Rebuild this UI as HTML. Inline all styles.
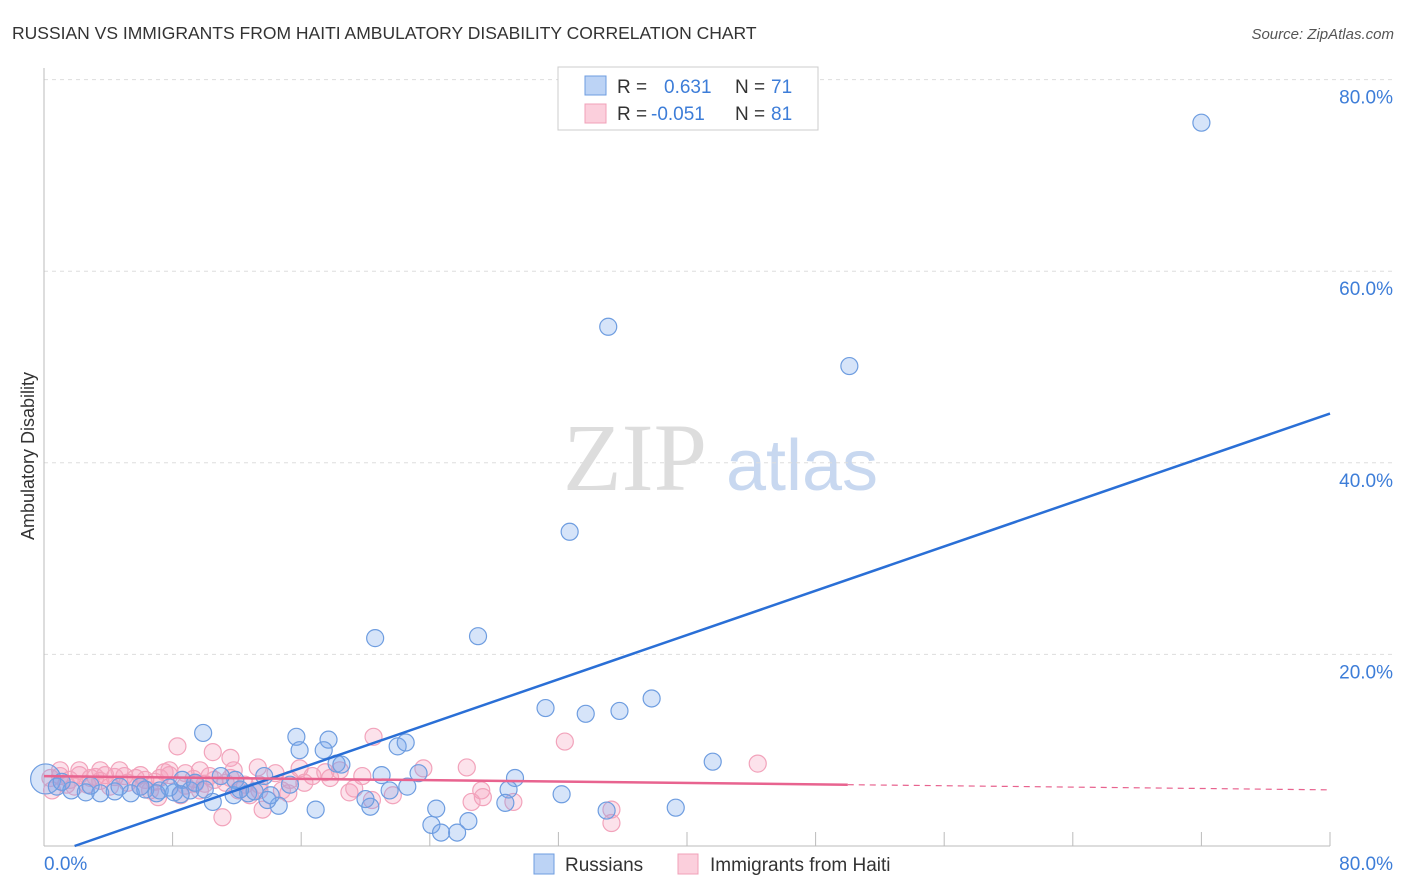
<!DOCTYPE html>
<html><head><meta charset="utf-8"><style>
body{margin:0;background:#fff;font-family:"Liberation Sans",sans-serif;}
svg{display:block}
</style></head><body>
<svg id="chart" width="1406" height="892" xmlns="http://www.w3.org/2000/svg">
<text x="12" y="39" font-size="17.5" fill="#333">RUSSIAN VS IMMIGRANTS FROM HAITI AMBULATORY DISABILITY CORRELATION CHART</text>
<text x="1394" y="39" font-size="15" fill="#555" font-style="italic" text-anchor="end">Source: ZipAtlas.com</text>
<text transform="translate(34,456) rotate(-90)" font-size="18" fill="#333" text-anchor="middle">Ambulatory Disability</text>
<g>
<text x="635" y="490" font-size="96" font-family="Liberation Serif,serif" fill="#ddd" text-anchor="middle">ZIP</text>
<text x="802" y="490" font-size="72" fill="#c8d8f0" text-anchor="middle">atlas</text>
</g>
<g id="grid"></g><g id="axes"></g><g id="pinkpts"></g><g id="bluepts"></g><g id="lines"></g>
<g>
<rect x="558" y="67" width="260" height="63" fill="#fff" stroke="#ccc"/>
<rect x="585" y="76" width="21" height="19" fill="#bcd3f5" stroke="#6e9de0"/>
<rect x="585" y="104" width="21" height="19" fill="#fbcfdc" stroke="#f0a0b8"/>
<text x="617" y="93" font-size="19" fill="#333">R = </text><text x="664" y="93" font-size="19" fill="#3d7dd8">0.631</text>
<text x="735" y="93" font-size="19" fill="#333">N = </text><text x="771" y="93" font-size="19" fill="#3d7dd8">71</text>
<text x="617" y="120" font-size="19" fill="#333">R = </text><text x="651" y="120" font-size="19" fill="#3d7dd8">-0.051</text>
<text x="735" y="120" font-size="19" fill="#333">N = </text><text x="771" y="120" font-size="19" fill="#3d7dd8">81</text>
</g>
<g>
<rect x="534" y="854" width="20" height="20" fill="#bcd3f5" stroke="#6e9de0"/>
<text x="565" y="871" font-size="19" fill="#333">Russians</text>
<rect x="678" y="854" width="20" height="20" fill="#fbcfdc" stroke="#f0a0b8"/>
<text x="710" y="871" font-size="19" fill="#333">Immigrants from Haiti</text>
</g>
</svg>
<script>
const yTicks=[20,40,60,80];
const xTickLabels=["0.0%","80.0%"];
const rusX=[0.1,72.0,35.1,50.1,32.7,20.6,27.0,31.2,33.7,35.8,37.8,41.6,9.9,15.7,17.7,15.9,17.4,22.0,22.5,18.2,18.5,23.3,21.0,22.6,21.5,13.7,11.9,11.0,8.6,10.5,14.6,16.9,20.3,20.0,24.4,24.1,24.7,25.7,26.4,29.3,28.9,28.7,32.2,35.0,39.3,0.8,1.7,2.6,3.5,4.4,5.4,6.3,7.2,8.1,9.1,12.7,11.8,13.1,15.3,1.1,2.9,4.7,6.0,7.8,9.4,12.2,14.1,13.9,7.0,8.5,10.0];
const rusY=[7.0,75.5,54.2,50.1,32.8,21.7,21.9,14.4,13.8,14.1,15.4,8.8,11.8,11.4,11.1,10.0,10.0,10.4,10.8,8.6,8.5,7.6,7.4,6.2,5.8,7.3,6.9,7.3,6.9,4.6,4.2,3.8,4.1,4.9,3.9,2.2,1.4,1.4,2.6,7.1,5.9,4.5,5.4,3.7,4.0,6.2,5.8,5.6,5.5,5.7,5.5,5.9,5.8,5.6,5.8,5.5,5.3,5.7,6.4,6.7,6.3,6.2,6.2,6.1,6.6,5.9,5.3,4.8,5.5,5.4,5.9];
const haiX=[8.3,10.5,11.6,20.5,32.4,44.4,26.3,23.6,13.3,15.9,16.7,14.4,17.8,19.8,0.4,1.0,1.6,2.2,3.2,3.8,4.4,5.0,5.7,6.3,6.9,7.5,7.8,8.8,9.4,10.0,10.6,11.3,12.5,13.4,15.2,19.0,21.7,20.4,27.2,27.3,26.6,29.2,35.3,35.3,11.1,13.6,7.1,0.5,1.4,2.7,4.1,6.0,8.5,9.7,12.1,12.8,2.9,5.2,7.2,9.3,11.6,1.9,3.5,6.6,8.8,10.3,14.8,16.2,18.4,7.8,4.7,1.0,2.2,3.5,6.0,9.7,11.8,13.4,15.3,17.5,19.3];
const haiY=[10.4,9.8,9.2,11.4,10.9,8.6,8.2,8.1,8.2,8.1,7.3,7.6,7.1,7.3,7.1,7.3,6.9,7.4,7.2,7.4,7.2,7.3,7.1,6.9,6.7,7.7,7.4,6.3,6.5,6.5,6.9,6.6,6.4,5.8,5.5,5.6,5.3,4.8,5.8,5.1,4.6,4.6,2.4,3.8,3.0,3.8,5.1,5.8,6.4,6.4,6.2,6.2,5.3,5.8,5.8,5.3,7.1,6.6,7.1,7.0,7.1,6.2,6.8,5.8,7.6,7.3,5.8,6.6,7.9,7.9,7.9,7.9,7.9,7.9,7.4,7.9,7.9,6.4,6.9,7.7,6.0];
const rusTrend=[-1.1,0.578];
const haiTrend=[7.3,-0.018];
const NS="http://www.w3.org/2000/svg";
const X=v=>44+v*16.075, Y=v=>846-v*9.58;
function mk(tag,attrs,parent){const e=document.createElementNS(NS,tag);for(const k in attrs)e.setAttribute(k,attrs[k]);parent.appendChild(e);return e;}
const grid=document.getElementById('grid'),axes=document.getElementById('axes');
yTicks.forEach(t=>{
 const l=mk('line',{x1:44,x2:1393,y1:Y(t),y2:Y(t),stroke:'#ddd','stroke-dasharray':'4,4'},grid);
 
 
 const tx=mk('text',{x:1393,y:Y(t)+24,'font-size':19,fill:'#3d7dd8','text-anchor':'end'},grid);
 tx.textContent=t.toFixed(1)+'%';
 
 
});
const ya=mk('line',{x1:44,x2:44,y1:68,y2:846,stroke:'#bbb'},axes);


const xa=mk('line',{x1:44,x2:1330,y1:846,y2:846,stroke:'#bbb'},axes);


for(let i=1;i<=10;i++){const tk=mk('line',{x1:X(i*8),x2:X(i*8),y1:832,y2:846,stroke:'#bbb'},axes);
 
 }
const xl0=mk('text',{x:44,y:870,'font-size':19,fill:'#3d7dd8'},axes);xl0.textContent=xTickLabels[0];


const xl1=mk('text',{x:1393,y:870,'font-size':19,fill:'#3d7dd8','text-anchor':'end'},axes);xl1.textContent=xTickLabels[1];


const pp=document.getElementById('pinkpts');
haiX.forEach((x,i)=>{const c=mk('circle',{cx:X(x),cy:Y(haiY[i]),r:8.5,fill:'rgba(245,160,190,0.3)',stroke:'#f2a3bb','stroke-width':1.2},pp);
 
 });
const bp=document.getElementById('bluepts');
rusX.forEach((x,i)=>{const c=mk('circle',{cx:X(x),cy:Y(rusY[i]),r:i===0?15:8.5,fill:'rgba(120,165,235,0.3)',stroke:'#6e9de0','stroke-width':1.2},bp);
 
 });
const lg=document.getElementById('lines');
const x0=(0-rusTrend[0])/rusTrend[1];
const bl=mk('line',{x1:X(x0),y1:Y(0),x2:X(80),y2:Y(rusTrend[0]+rusTrend[1]*80),stroke:'#2a6fd6','stroke-width':2.5},lg);


const pl=mk('line',{x1:X(0),y1:Y(haiTrend[0]),x2:X(50),y2:Y(haiTrend[0]+haiTrend[1]*50),stroke:'#e8638f','stroke-width':2.5},lg);


const pd=mk('line',{x1:X(50),y1:Y(haiTrend[0]+haiTrend[1]*50),x2:X(80),y2:Y(haiTrend[0]+haiTrend[1]*80),stroke:'#e8638f','stroke-width':1.2,'stroke-dasharray':'6,5'},lg);


</script>
</body></html>
